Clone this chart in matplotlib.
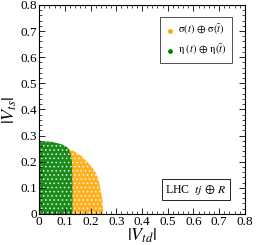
import numpy as np
import matplotlib.pyplot as plt
from matplotlib.ticker import MultipleLocator

plt.rcParams['font.family'] = ['Liberation Serif', 'DejaVu Serif']
plt.rcParams['mathtext.fontset'] = 'stix'
plt.rcParams['hatch.linewidth'] = 0.6

# Boundaries of the allowed regions
# sigma(t) + sigma(tbar): upper edge of the orange region
sig_x = [0.0, 0.03, 0.062, 0.09, 0.114, 0.14, 0.166, 0.19, 0.214, 0.228, 0.237, 0.245, 0.25]
sig_y = [0.277, 0.276, 0.27, 0.262, 0.25, 0.237, 0.22, 0.196, 0.169, 0.14, 0.105, 0.06, 0.0]

# eta(t) + eta(tbar): upper edge of the green region
eta_x = [0.0, 0.05, 0.09, 0.11, 0.122, 0.128, 0.13, 0.13]
eta_y = [0.28, 0.276, 0.266, 0.255, 0.235, 0.2, 0.1, 0.0]

ORANGE = '#ffb020'
GREEN = '#1a8a1a'

fig = plt.figure(figsize=(2.57, 2.45), dpi=100)
ax = fig.add_axes([0.152, 0.127, 0.801, 0.853])

ax.fill(sig_x + [0.0], sig_y + [0.0], color=ORANGE, lw=0)
ax.fill(sig_x + [0.0], sig_y + [0.0], facecolor='none', edgecolor='#fff6e0', hatch='....', lw=0)
ax.fill(eta_x + [0.0], eta_y + [0.0], color=GREEN, lw=0)
ax.fill(eta_x + [0.0], eta_y + [0.0], facecolor='none', edgecolor='#e0f0e0', hatch='....', lw=0)

# legend handles
ax.scatter([], [], s=6, color='orange', label=r'$\mathrm{\sigma}(t)\,\oplus\,\mathrm{\sigma}(\bar{t})$')
ax.scatter([], [], s=6, color='green', label=r'$\mathrm{\eta}\ (t)\,\oplus\,\mathrm{\eta}(\bar{t})$')

ax.set_xlim(0, 0.8)
ax.set_ylim(0, 0.8)
ax.xaxis.set_major_locator(MultipleLocator(0.1))
ax.yaxis.set_major_locator(MultipleLocator(0.1))
ax.xaxis.set_minor_locator(MultipleLocator(0.02))
ax.yaxis.set_minor_locator(MultipleLocator(0.02))
ax.tick_params(which='both', direction='in', top=True, right=True, labelsize=9.5, pad=1.5)
ax.tick_params(which='major', length=4, width=0.6)
ax.tick_params(which='minor', length=2, width=0.5)
ax.xaxis.set_major_formatter(lambda v, p: '0' if abs(v) < 1e-9 else f'{v:.1f}')
ax.yaxis.set_major_formatter(lambda v, p: '0' if abs(v) < 1e-9 else f'{v:.1f}')
for s in ax.spines.values():
    s.set_linewidth(0.8)

ax.set_xlabel(r'$|V_{td}|$', fontsize=13, labelpad=-1)
ax.set_ylabel(r'$|V_{ts}|$', fontsize=13, labelpad=1)

leg = ax.legend(loc='upper right', bbox_to_anchor=(0.935, 0.94), fontsize=7.5,
                frameon=True, fancybox=False, edgecolor='black', handletextpad=0.2,
                handlelength=1.0, borderpad=0.5, labelspacing=0.5, borderaxespad=0)
leg.get_frame().set_linewidth(0.6)

ax.text(0.76, 0.115, r'LHC  $tj\,\oplus\,R$', transform=ax.transAxes, fontsize=8.5,
        ha='center', va='center',
        bbox=dict(boxstyle='square,pad=0.3', fc='white', ec='black', lw=0.6))

fig.savefig('out.png', dpi=100)
